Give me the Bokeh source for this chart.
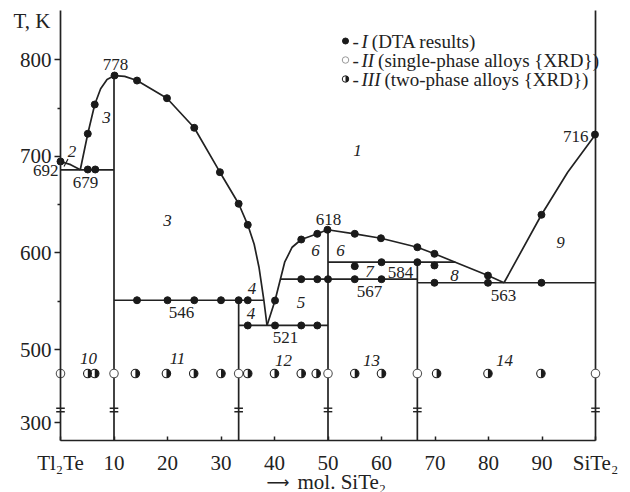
import math
from bokeh.plotting import figure
from bokeh.models import Range1d, FixedTicker, Label
from bokeh.embed import file_html
from bokeh.resources import INLINE

# ---------------- data ----------------
# I : DTA results (mol.% SiTe2, T in K)
dta_x = [0, 5.1, 6.5, 5.1, 6.4, 10.1, 14.3, 19.9, 25.0, 29.8, 33.3, 35.0,
         14.3, 20.0, 25.0, 30.0, 33.3, 35.0,
         35.0, 40.1, 45.0, 48.0,
         40.1, 45.0, 48.0, 49.9, 55.0, 59.9, 66.7, 69.9, 79.9,
         45.0, 48.0, 50.0, 55.0, 60.0,
         55.0, 60.0, 66.7, 69.9,
         69.9, 79.9, 89.9,
         89.9, 99.9]
dta_t = [694.7, 686.4, 686.4, 723.4, 753.7, 783.7, 778.5, 760.2, 729.6, 683.6, 650.9, 629.1,
         551.0, 551.0, 551.0, 551.0, 551.0, 551.0,
         524.9, 524.9, 524.9, 524.9,
         550.7, 613.9, 619.8, 624.0, 619.8, 615.2, 605.9, 599.1, 576.6,
         572.8, 572.8, 572.8, 572.8, 572.8,
         586.3, 590.4, 590.4, 587.0,
         569.1, 569.1, 569.1,
         639.5, 722.6]

# II : single-phase alloys (XRD)
xrd1_x = [0, 10, 33.3, 50, 66.7, 100]
xrd1_t = [475.1] * 6
# III : two-phase alloys (XRD)
xrd2_x = [5.1, 6.4, 14.0, 19.8, 24.9, 30.0, 35.0, 40.0, 45.0, 47.8, 55.0, 60.0, 70.3, 79.9, 89.8]
xrd2_t = [475.1] * 15

# liquidus / phase boundary curves
curve_a_x = [0, 1.9, 3.7]
curve_a_t = [694.7, 691.4, 686.1]
curve_b_x = [3.7, 5.1, 6.4, 7.5, 8.7, 10.1]
curve_b_t = [686.1, 723.4, 753.7, 770.0, 779.6, 783.7]
curve_c_x = [10.1, 12.0, 14.3, 19.9, 25.0, 29.8, 33.3, 35.0, 36.2, 37.1, 38.0, 38.6]
curve_c_t = [783.7, 782.8, 778.5, 760.2, 729.6, 683.6, 650.9, 629.1, 609.0, 585.2, 551.5, 524.9]
curve_d_x = [38.6, 40.1, 41.1, 41.9, 43.3, 45.0, 48.0, 49.9]
curve_d_t = [524.9, 550.7, 572.8, 590.4, 605.9, 613.9, 619.8, 624.0]
curve_e_x = [49.9, 55.0, 59.9, 66.7, 69.9, 73.8, 79.9, 82.9]
curve_e_t = [624.0, 619.8, 615.2, 605.9, 599.1, 590.4, 576.6, 569.1]
curve_f_x = [82.9, 89.9, 94.8, 100]
curve_f_t = [569.1, 639.5, 683.6, 722.6]

# horizontal invariant lines (x from, x to, T)
hor_x0 = [0, 10, 33.3, 41.1, 50, 66.7]
hor_x1 = [10, 38.0, 50, 66.7, 73.8, 100]
hor_t = [686.1, 551.0, 524.9, 572.8, 590.4, 569.1]

# vertical lines for compounds (x, top T)
ver_x = [10, 33.3, 50, 66.7]
ver_t = [783.7, 551.0, 624.0, 590.4]

# axis breaks
break_x = [0, 10, 33.3, 50, 66.7, 100]

# ticks
x_ticks = [0, 10, 20, 30, 40, 50, 60, 70, 80, 90, 100]
x_tick_labels = {0: "Tl\u2082Te", 100: "SiTe\u2082"}
y_ticks = [424, 500, 600, 700, 800]
y_tick_labels = {424: "300"}
y_minor = [550, 650, 750]

# ---------------- layout helpers (pixel -> data) ----------------
PX0, PXU = 60.0, 5.35         # x pixel of 0 mol.% and pixels per mol.%
PY500, PYU = 349.0, 0.9657    # y pixel of 500 K and pixels per K


def cx(px):
    return (px - PX0) / PXU


def ty(py):
    return 500 + (PY500 - py) / PYU


FONT = "Liberation Serif"
INK = "#222222"
T_BOT, T_TOP = ty(440), ty(10)

p = figure(width=630, height=492, output_backend="svg", toolbar_location=None,
           x_range=Range1d(cx(0), cx(630)), y_range=Range1d(ty(492), ty(0)),
           min_border=0, min_border_left=0, min_border_right=0,
           min_border_top=0, min_border_bottom=0)
p.outline_line_color = None
p.grid.visible = False
p.background_fill_color = "white"

# axes
xa = p.xaxis[0]
xa.fixed_location = T_BOT
xa.ticker = FixedTicker(ticks=x_ticks, minor_ticks=[])
xa.major_label_overrides = x_tick_labels
xa.bounds = (0, 100)
xa.major_tick_in = 4
xa.major_tick_out = 0
xa.minor_tick_in = 0
xa.minor_tick_out = 0
xa.major_label_standoff = 10
ya = p.yaxis[0]
ya.fixed_location = 0
ya.bounds = (T_BOT, T_TOP)
ya.ticker = FixedTicker(ticks=y_ticks, minor_ticks=y_minor)
ya.major_label_overrides = y_tick_labels
ya.major_tick_in = 0
ya.major_tick_out = 6
ya.minor_tick_in = 0
ya.minor_tick_out = 3
ya.major_label_standoff = 3
for ax in (xa, ya):
    ax.axis_line_width = 1.7
    ax.axis_line_color = INK
    ax.major_tick_line_color = INK
    ax.major_tick_line_width = 1.5
    ax.minor_tick_line_color = INK
    ax.minor_tick_line_width = 1.5
    ax.major_label_text_font = FONT
    ax.major_label_text_font_size = "21px"
    ax.major_label_text_color = INK

LW = 1.7
# right frame line
p.line([100, 100], [T_BOT, T_TOP], line_color=INK, line_width=LW)

for xs, ts in [(curve_a_x, curve_a_t), (curve_b_x, curve_b_t), (curve_c_x, curve_c_t),
               (curve_d_x, curve_d_t), (curve_e_x, curve_e_t), (curve_f_x, curve_f_t)]:
    p.line(xs, ts, line_color=INK, line_width=LW)

p.segment(x0=hor_x0, y0=hor_t, x1=hor_x1, y1=hor_t, line_color=INK, line_width=LW)
p.segment(x0=ver_x, y0=ver_t, x1=ver_x, y1=[T_BOT] * len(ver_x), line_color=INK, line_width=LW)

# break marks
bw = 4.3 / PXU
for bt in (ty(407.7), ty(411.2)):
    p.segment(x0=[b - bw for b in break_x], y0=[bt] * len(break_x),
              x1=[b + bw for b in break_x], y1=[bt] * len(break_x),
              line_color=INK, line_width=1.4)

# small leader for region 2
p.line([cx(67.5), cx(63.5)], [ty(158.5), ty(166.0)], line_color=INK, line_width=1.2)

# markers
p.scatter(dta_x, dta_t, marker="circle", size=7, fill_color="#1a1a1a", line_color="#1a1a1a")
p.scatter(xrd1_x, xrd1_t, marker="circle", size=8.5, fill_color="white", line_color="#555555", line_width=1.1)
p.scatter(xrd2_x, xrd2_t, marker="circle", size=8.5, fill_color="white", line_color="#222222", line_width=1.1)
p.wedge(xrd2_x, xrd2_t, radius=4.2, radius_units="screen", start_angle=-math.pi / 2,
        end_angle=math.pi / 2, direction="anticlock", fill_color="#1a1a1a", line_color=None)


def txt(s, px, py, size="17px", italic=False, align="center", baseline="middle", font=FONT):
    p.add_layout(Label(x=cx(px), y=ty(py), text=s, text_font=font, text_font_size=size,
                       text_font_style="italic" if italic else "normal", text_color=INK,
                       text_align=align, text_baseline=baseline))


# numeric labels
txt("778", 115, 64)
txt("692", 58, 170, align="right")
txt("679", 85, 182)
txt("546", 181, 312)
txt("521", 285, 337)
txt("618", 328, 219)
txt("567", 369, 291)
txt("584", 400, 272)
txt("563", 503, 295)
txt("716", 588, 136, align="right")

# region labels
for s, px, py in [("1", 357, 150), ("2", 71.5, 151), ("3", 106, 117), ("3", 167, 220),
                  ("4", 251.5, 288), ("4", 250.5, 313), ("5", 300.5, 302), ("6", 315, 250),
                  ("6", 340, 250), ("7", 369, 271), ("8", 454, 275), ("9", 560, 242),
                  ("10", 88, 358), ("11", 177, 358), ("12", 283, 360), ("13", 371, 360),
                  ("14", 504, 360)]:
    txt(s, px, py, italic=True)

# axis titles
txt("T, K", 13, 20, size="21px", align="left")
txt("\u27f6", 266, 482, size="16px", align="left", font="DejaVu Sans")
txt("mol. SiTe\u2082", 297, 481, size="21px", align="left")

# legend
LY = [40.5, 59.5, 78.5]
LX = 345
p.scatter([cx(LX)], [ty(LY[0])], marker="circle", size=6, fill_color="#1a1a1a", line_color="#1a1a1a")
p.scatter([cx(LX)], [ty(LY[1])], marker="circle", size=6.5, fill_color="white", line_color="#999999")
p.scatter([cx(LX)], [ty(LY[2])], marker="circle", size=6.5, fill_color="white", line_color="#222222")
p.wedge([cx(LX)], [ty(LY[2])], radius=3.2, radius_units="screen", start_angle=-math.pi / 2,
        end_angle=math.pi / 2, direction="anticlock", fill_color="#1a1a1a", line_color=None)
for (num, rest), ly in zip([("I", "(DTA results)"), ("II", "(single-phase alloys {XRD})"),
                            ("III", "(two-phase alloys {XRD})")], LY):
    txt("-", 352, ly, size="19px", align="left")
    txt(num, 361, ly, size="19px", italic=True, align="left")
    txt(rest, 361 + 6.3 * len(num) + 4, ly, size="19px", align="left")

open("out.html", "w").write(file_html(p, INLINE))
